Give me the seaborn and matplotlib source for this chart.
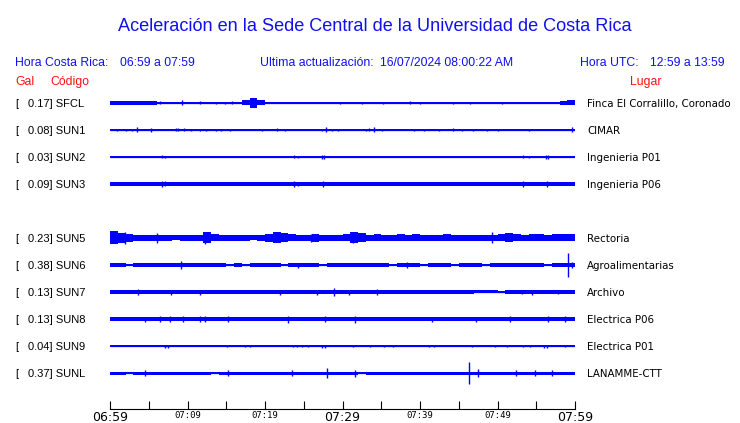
import numpy as np
import pandas as pd
import matplotlib
matplotlib.use("Agg")
import matplotlib.pyplot as plt
import seaborn as sns

# ---------------- data ----------------
codes = ["SFCL", "SUN1", "SUN2", "SUN3", "SUN5", "SUN6", "SUN7", "SUN8", "SUN9", "SUNL"]
gal = [0.17, 0.08, 0.03, 0.09, 0.23, 0.38, 0.13, 0.13, 0.04, 0.37]
places = ["Finca El Corralillo, Coronado", "CIMAR", "Ingenieria P01", "Ingenieria P06",
          "Rectoria", "Agroalimentarias", "Archivo", "Electrica P06", "Electrica P01",
          "LANAMME-CTT"]
row_slot = [0, 1, 2, 3, 5, 6, 7, 8, 9, 10]

tick_labels = ["06:59", "07:09", "07:19", "07:29", "07:39", "07:49", "07:59"]
big_labels = ["06:59", "07:29", "07:59"]

# amplitude envelopes (half height, relative units), one value per minute after 06:59
env_sfcl = [1.6, 1.6, 1.6, 1.6, 1.6, 1.6,
            0.5, 1.0, 1.0, 1.2, 0.5,
            0.7, 0.5, 0.7, 0.7, 0.7,
            0.5, 2.5, 5.0, 2.5, 1.2,
            0.6, 1.0, 1.0, 0.9, 0.7,
            1.0, 1.0, 0.6, 0.9, 0.9,
            1.0, 0.9, 0.7, 0.5, 0.5,
            0.5, 0.7, 0.9, 0.7, 0.5,
            0.7, 1.0, 0.7, 0.5, 0.5,
            0.7, 0.5, 0.5, 0.6, 0.5,
            0.5, 0.5, 0.5, 0.5, 0.5,
            0.5, 0.5, 2.0, 2.5]
env_sun1 = [0.5, 0.5, 0.5, 0.5, 0.5, 0.5, 0.5, 0.5, 0.5, 0.5,
            0.5, 0.5, 0.5, 0.5, 0.5, 0.5, 0.5, 0.5, 0.5, 0.5,
            0.5, 0.5, 0.5, 0.5, 1.2, 0.8, 0.5, 0.5, 0.5, 0.5,
            0.5, 0.5, 0.5, 0.5, 0.5, 0.5, 0.5, 0.5, 0.5, 0.5,
            0.5, 0.5, 0.5, 0.5, 0.5, 0.5, 0.5, 0.5, 0.5, 0.5,
            0.5, 0.9, 0.9, 0.5, 0.5, 0.5, 0.5, 1.3, 1.3, 0.5]
env_sun2 = [0.5, 0.5, 0.5, 0.5, 0.5, 0.5, 0.5, 0.5, 0.5, 0.5,
            0.5, 0.5, 0.5, 0.5, 0.5, 0.5, 0.5, 0.5, 0.5, 0.5,
            0.5, 0.5, 0.5, 0.5, 0.5, 0.5, 0.5, 0.5, 0.5, 0.5,
            0.5, 0.5, 0.5, 0.5, 0.5, 0.5, 0.5, 0.5, 0.5, 0.5,
            0.5, 0.5, 0.5, 0.5, 0.5, 0.5, 0.5, 0.5, 0.5, 0.5,
            0.5, 0.5, 0.5, 0.5, 0.5, 0.5, 0.5, 0.5, 0.5, 0.5]
env_sun3 = [1.8, 1.8, 1.7, 1.8, 1.8, 1.7, 1.8, 1.8, 1.8, 1.7,
            1.8, 1.7, 1.8, 1.8, 1.7, 1.8, 1.8, 1.8, 1.7, 1.8,
            1.8, 1.7, 1.8, 1.8, 1.8, 1.7, 1.8, 1.8, 1.7, 1.8,
            1.8, 1.8, 1.7, 1.8, 1.8, 1.7, 1.8, 1.8, 1.8, 1.7,
            1.8, 1.7, 1.8, 1.8, 1.7, 1.8, 1.8, 1.8, 1.7, 1.8,
            1.8, 1.7, 1.8, 1.8, 1.8, 1.7, 1.8, 1.8, 1.7, 1.8]
env_sun5 = [6.5, 5.0, 4.0, 3.0, 3.0, 3.0, 3.0, 3.0, 2.5, 3.0,
            3.0, 3.0, 5.5, 3.5, 3.0, 3.0, 3.0, 3.0, 2.5, 3.0,
            4.0, 5.5, 4.5, 3.5, 3.0, 3.0, 4.0, 3.0, 3.0, 3.0,
            3.5, 5.5, 4.5, 3.0, 3.5, 3.0, 3.0, 3.5, 3.0, 3.5,
            3.0, 3.0, 3.0, 3.5, 3.0, 3.0, 3.0, 3.0, 3.0, 3.0,
            3.5, 4.5, 3.5, 3.0, 3.5, 3.5, 3.0, 3.5, 3.5, 3.5]
env_sun6 = [1.6, 1.6, 0.6, 1.6, 1.6, 1.6, 1.6, 1.6, 1.6, 2.0,
            1.6, 1.6, 1.6, 1.6, 1.6, 0.6, 1.6, 0.6, 1.6, 1.6,
            1.6, 1.6, 0.6, 1.6, 1.6, 1.6, 1.6, 0.6, 1.6, 1.6,
            1.6, 1.6, 1.6, 1.6, 1.6, 1.6, 0.6, 1.6, 1.6, 1.6,
            0.6, 1.6, 1.6, 1.6, 0.6, 1.6, 1.6, 1.6, 0.6, 1.6,
            1.6, 1.6, 1.6, 1.6, 1.6, 1.6, 0.6, 1.6, 1.6, 1.6]
env_sun7 = [1.8, 1.8, 1.8, 1.8, 1.8, 1.8, 1.8, 1.8, 1.8, 1.8,
            1.8, 1.8, 1.8, 1.8, 1.8, 1.8, 1.8, 1.8, 1.8, 1.8,
            1.8, 1.8, 1.8, 1.8, 1.8, 1.8, 1.8, 1.8, 1.8, 1.8,
            1.8, 1.8, 1.8, 1.8, 1.8, 1.8, 1.8, 1.8, 1.8, 1.8,
            1.8, 1.8, 1.8, 1.8, 1.8, 1.8, 1.8, 1.5, 1.5, 1.5,
            0.6, 1.8, 1.8, 1.8, 1.8, 1.8, 1.8, 1.8, 1.8, 1.8]
env_sun8 = [1.7, 1.7, 1.7, 1.7, 1.7, 1.7, 2.3, 2.3, 2.3, 2.3,
            1.7, 2.3, 2.3, 1.7, 1.7, 2.0, 1.7, 1.7, 1.7, 1.7,
            1.7, 1.7, 2.3, 2.3, 2.3, 1.7, 1.7, 1.7, 1.7, 1.7,
            1.7, 2.3, 2.3, 2.0, 1.7, 1.7, 1.7, 1.7, 1.7, 1.7,
            1.7, 1.7, 1.7, 1.7, 1.7, 1.7, 1.7, 2.0, 2.0, 1.7,
            2.0, 2.0, 2.0, 1.7, 1.7, 2.3, 2.3, 2.0, 1.7, 1.7]
env_sun9 = [0.5, 0.5, 0.5, 0.5, 0.5, 0.5, 0.5, 1.0, 0.5, 0.5,
            0.5, 0.5, 0.5, 0.5, 0.5, 0.5, 0.5, 0.5, 0.5, 0.5,
            0.5, 0.5, 0.5, 0.5, 0.5, 0.5, 0.5, 0.5, 0.5, 0.5,
            0.5, 0.5, 0.5, 0.5, 0.5, 0.5, 0.5, 0.5, 0.5, 0.5,
            0.5, 0.5, 0.5, 0.5, 0.5, 0.5, 0.5, 0.5, 0.5, 0.5,
            0.5, 0.5, 0.5, 0.5, 0.5, 0.5, 1.0, 0.5, 0.5, 0.5]
env_sunl = [1.5, 1.5, 0.8, 1.5, 1.5, 1.5, 1.5, 1.5, 1.5, 1.5,
            1.5, 1.5, 1.5, 0.8, 1.5, 1.5, 1.5, 1.5, 1.5, 1.5,
            1.5, 1.5, 1.5, 1.5, 1.5, 1.5, 1.5, 1.5, 1.5, 1.5,
            1.5, 1.5, 0.6, 1.5, 1.5, 1.5, 1.5, 1.5, 1.5, 1.5,
            1.5, 1.5, 1.5, 1.5, 1.5, 1.5, 1.5, 1.5, 1.5, 1.5,
            1.5, 1.5, 1.5, 1.5, 1.5, 1.5, 1.5, 1.5, 1.5, 1.5]

# isolated peaks: minute after 06:59 and half height
spk_sfcl_t = [6.45, 9.3, 11.6, 13.7, 14.8, 15.7, 29.7, 32.5, 35.2, 38.7, 40.0, 44.3, 46.5, 50.6]
spk_sfcl_a = [1.5, 2.5, 1.5, 1.2, 1.2, 1.5, 1.2, 1.2, 1.0, 1.5, 1.0, 1.0, 1.0, 1.0]
spk_sun1_t = [0.9, 2.1, 2.8, 3.5, 5.3, 8.5, 8.8, 9.5, 10.5, 11.6, 12.4, 13.7, 14.3, 15.5,
              19.6, 21.5, 22.6, 27.4, 27.9, 28.6, 29.4, 33.0, 33.4, 34.1, 35.1, 39.2,
              40.5, 42.5, 44.3, 45.4, 46.8, 48.6, 50.1, 54.1, 59.6]
spk_sun1_a = [1.2, 1.2, 1.0, 2.5, 1.8, 1.5, 1.5, 1.5, 1.2, 1.2, 1.2, 1.2, 1.2, 1.0,
              1.0, 1.5, 1.2, 1.2, 2.5, 1.2, 1.0, 1.2, 1.5, 2.5, 1.0, 1.0,
              1.2, 1.0, 1.5, 1.0, 1.0, 1.0, 1.0, 1.0, 2.5]
spk_sun2_t = [6.7, 7.1, 23.7, 24.3, 27.4, 27.6, 53.3, 54.1, 56.3, 56.5]
spk_sun2_a = [1.5, 1.2, 1.5, 1.0, 2.0, 2.0, 1.5, 1.0, 2.0, 2.0]
spk_sun3_t = [6.7, 7.1, 23.7, 24.3, 27.5, 53.3, 56.4]
spk_sun3_a = [2.8, 2.5, 2.8, 2.3, 2.8, 2.8, 3.0]
spk_sun5_t = [1.9, 6.1, 12.3, 25.9, 31.4, 49.3]
spk_sun5_a = [6.0, 5.0, 6.0, 4.0, 5.5, 5.5]
spk_sun6_t = [9.2, 24.3, 38.3, 59.1, 59.6]
spk_sun6_a = [4.0, 2.5, 3.0, 12.0, 3.0]
spk_sun7_t = [3.6, 7.9, 11.6, 21.9, 26.7, 28.9, 30.8, 34.5, 53.2, 54.5, 57.8]
spk_sun7_a = [3.0, 2.5, 2.5, 2.5, 2.5, 4.0, 2.5, 3.0, 2.0, 2.5, 2.0]
spk_sun8_t = [4.5, 6.5, 7.7, 9.4, 11.6, 12.3, 15.2, 23.0, 27.7, 31.6, 41.5, 47.2, 51.6, 56.5, 58.7]
spk_sun8_a = [2.5, 3.0, 3.0, 3.0, 3.0, 3.0, 3.0, 3.5, 3.0, 3.5, 2.5, 2.5, 2.8, 3.2, 3.0]
spk_sun9_t = [7.1, 7.5, 15.1, 17.4, 18.1, 23.6, 24.1, 24.8, 25.5, 27.4, 27.7, 31.4, 33.5,
              35.4, 36.5, 41.2, 41.8, 46.7, 49.7, 51.2, 53.3, 54.2, 56.0, 56.4, 58.7]
spk_sun9_a = [1.5, 1.5, 1.2, 1.0, 1.0, 1.2, 1.2, 1.0, 1.0, 1.5, 1.5, 1.2, 1.0,
              1.0, 1.0, 1.0, 1.2, 1.2, 1.2, 1.2, 1.2, 1.2, 1.5, 1.5, 1.0]
spk_sunl_t = [4.5, 15.2, 23.5, 28.0, 31.6, 46.3, 47.5, 52.4, 54.8, 57.0]
spk_sunl_a = [2.5, 3.0, 3.0, 5.0, 3.5, 11.5, 4.0, 3.0, 2.5, 3.0]

envelopes = [env_sfcl, env_sun1, env_sun2, env_sun3, env_sun5, env_sun6, env_sun7,
             env_sun8, env_sun9, env_sunl]
spike_t = [spk_sfcl_t, spk_sun1_t, spk_sun2_t, spk_sun3_t, spk_sun5_t, spk_sun6_t,
           spk_sun7_t, spk_sun8_t, spk_sun9_t, spk_sunl_t]
spike_a = [spk_sfcl_a, spk_sun1_a, spk_sun2_a, spk_sun3_a, spk_sun5_a, spk_sun6_a,
           spk_sun7_a, spk_sun8_a, spk_sun9_a, spk_sunl_a]

# ---------------- style / layout ----------------
sns.set_theme(style="white")
plt.rcParams["font.family"] = ["Liberation Sans", "DejaVu Sans"]

W, H = 740, 423
BLUE = "#1010f0"
TRACE = "#0000ff"
RED = "#ff1010"
ROW_PX = 27.0

fig = plt.figure(figsize=(W / 100, H / 100), dpi=100)
fig.patch.set_facecolor("white")


def fx(x):
    return x / W


def fy(y):
    return 1 - y / H


ax = fig.add_axes([fx(110), fy(409), fx(575) - fx(110), fy(88) - fy(409)])
ax.set_facecolor("none")
ax.set_xlim(0, 60)
ax.set_ylim((409 - 103) / ROW_PX, (88 - 103) / ROW_PX)

minutes = np.arange(61)
for i, code in enumerate(codes):
    y0 = row_slot[i]
    env = np.array(envelopes[i] + [envelopes[i][-1]]) / ROW_PX
    df = pd.DataFrame({"t": [0, 60], "v": [y0, y0]})
    sns.lineplot(data=df, x="t", y="v", ax=ax, color=TRACE, lw=0.9, legend=False)
    ax.fill_between(minutes, y0 - env, y0 + env, step="post", color=TRACE, lw=0)
    a = np.array(spike_a[i]) / ROW_PX
    ax.vlines(spike_t[i], y0 - a, y0 + a, color=TRACE, lw=1.0)

ax.set_xlabel("")
ax.set_ylabel("")
ax.set_yticks([])
for s in ["top", "left", "right"]:
    ax.spines[s].set_visible(False)
ax.spines["bottom"].set_color("black")
ax.spines["bottom"].set_linewidth(0.8)
ax.set_xticks(np.arange(0, 61, 10))
ax.set_xticks(np.arange(5, 60, 10), minor=True)
ax.set_xticklabels(tick_labels)
ax.tick_params(axis="x", which="both", bottom=True, direction="in", length=6,
               width=0.8, color="black", pad=1.2)
for lab in ax.get_xticklabels():
    if lab.get_text() in big_labels:
        lab.set_fontfamily("DejaVu Sans")
        lab.set_fontsize(9)
    else:
        lab.set_fontfamily("DejaVu Sans Mono")
        lab.set_fontsize(6.4)
    lab.set_color("black")

# ---------------- texts ----------------
fig.text(fx(375), fy(31), "Aceleración en la Sede Central de la Universidad de Costa Rica",
         ha="center", va="baseline", color=BLUE, fontsize=13.1)
hdr = dict(va="baseline", color=BLUE, fontsize=8.8)
fig.text(fx(15), fy(65.5), "Hora Costa Rica:", **hdr)
fig.text(fx(120), fy(65.5), "06:59 a 07:59", **hdr)
fig.text(fx(260), fy(65.5), "Ultima actualización:", **hdr)
fig.text(fx(380), fy(65.5), "16/07/2024 08:00:22 AM", **hdr)
fig.text(fx(580), fy(65.5), "Hora UTC:", **hdr)
fig.text(fx(650), fy(65.5), "12:59 a 13:59", **hdr)
red = dict(va="baseline", color=RED, fontsize=8.8)
fig.text(fx(15), fy(85), "Gal", **red)
fig.text(fx(50), fy(85), "Código", **red)
fig.text(fx(630), fy(85), "Lugar", **red)

for i, code in enumerate(codes):
    ypx = 103 + ROW_PX * row_slot[i] + 4
    fig.text(fx(15), fy(ypx), "[", va="baseline", color="black", fontsize=8)
    fig.text(fx(28), fy(ypx), f"{gal[i]:.2f}] {code}", va="baseline", color="black",
             fontsize=8)
    fig.text(fx(587), fy(ypx), places[i], va="baseline", color="black", fontsize=7.4,
             family="DejaVu Sans")

fig.savefig("out.png", dpi=100, facecolor="white")
